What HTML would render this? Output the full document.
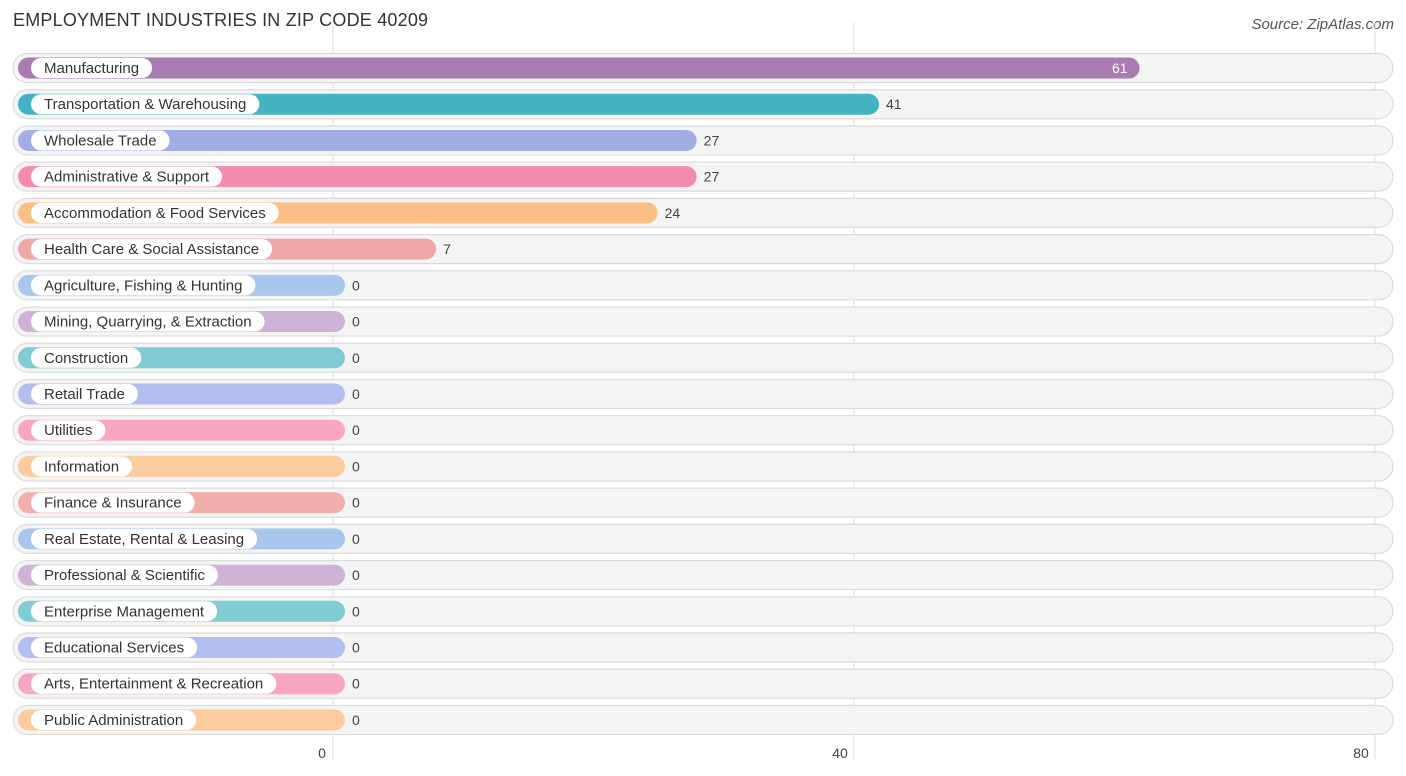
<!DOCTYPE html>
<html><head><meta charset="utf-8"><style>
body{margin:0;width:1406px;height:776px;background:#fff;font-family:"Liberation Sans",sans-serif;position:relative;overflow:hidden}
.t{position:absolute;left:13px;top:10px;font-size:18px;color:#333;letter-spacing:.2px}
.s{position:absolute;right:12px;top:16px;font-size:15px;color:#555;font-style:italic}
</style></head><body>
<div class="t">EMPLOYMENT INDUSTRIES IN ZIP CODE 40209</div>
<div class="s">Source: ZipAtlas.com</div>
<svg id="c" width="1406" height="776" style="position:absolute;left:0;top:0"></svg>
<script>
const categories=["Manufacturing","Transportation & Warehousing","Wholesale Trade","Administrative & Support","Accommodation & Food Services","Health Care & Social Assistance","Agriculture, Fishing & Hunting","Mining, Quarrying, & Extraction","Construction","Retail Trade","Utilities","Information","Finance & Insurance","Real Estate, Rental & Leasing","Professional & Scientific","Enterprise Management","Educational Services","Arts, Entertainment & Recreation","Public Administration"];
const values=[61,41,27,27,24,7,0,0,0,0,0,0,0,0,0,0,0,0,0];
const colors=["#a97ab3","#44b3c1","#a2ade6","#f48aad","#fbbf85","#eea8a6","#a9c6ec","#cfb3d6","#7fccd4","#b4bdef","#f8a6c2","#fccb9e","#f1afac","#a9c6ec","#cfb3d6","#7fccd4","#b4bdef","#f8a6c2","#fccb9e"];
const ticks=[0,40,80];
const x0=333,pxu=(1375-333)/80;
const xs=v=>x0+v*pxu;
const rowY=i=>68+i*36.22;
const svg=document.getElementById('c');const NS="http://www.w3.org/2000/svg";
function mk(t,a,p){const e=document.createElementNS(NS,t);for(const k in a)e.setAttribute(k,a[k]);(p||svg).appendChild(e);return e;}
ticks.forEach(t=>{const l=mk('line',{x1:xs(t),x2:xs(t),y1:22,y2:760,stroke:'#ddd','stroke-width':1});
const tx=mk('text',{x:xs(t)-(t==0?11:(t==80?14:14)),y:758,'font-size':14,fill:'#444','text-anchor':'middle'});tx.textContent=t;});
categories.forEach((c,i)=>{const y=rowY(i);
const g=mk('g',{});
mk('rect',{x:13,y:y-14.5,width:1380,height:29,rx:14.5,fill:'#f4f4f4',stroke:'#dcdcdc','stroke-width':1.2},g);
const w=xs(values[i])+12-18;
const b=mk('rect',{x:18,y:y-10.5,width:w,height:21,rx:10.5,fill:colors[i]},g);
const lt=mk('text',{x:44,y:y+5,'font-size':15,fill:'#333'},g);lt.textContent=c;
const tw=lt.getComputedTextLength();
const lp=mk('rect',{x:31,y:y-10,width:tw+26,height:20,rx:10,fill:'#fff'},g);g.insertBefore(lp,lt);

const inside=values[i]>50;
const vt=mk('text',{x:inside?18+w-12:18+w+7,y:y+5,'font-size':14,fill:inside?'#fff':'#444','text-anchor':inside?'end':'start'},g);vt.textContent=values[i];

});
</script>
</body></html>
